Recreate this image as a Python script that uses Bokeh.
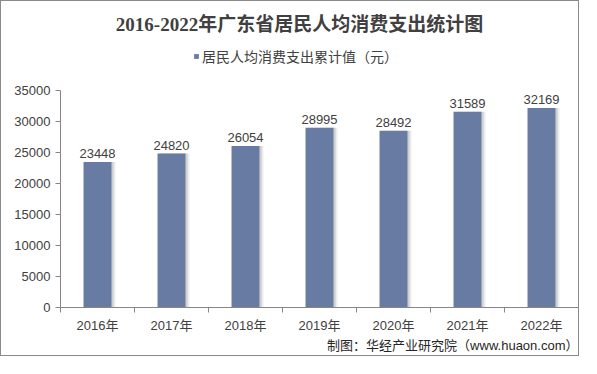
from bokeh.plotting import figure
from bokeh.models import (Range1d, FixedTicker, Label, LabelSet, ColumnDataSource,
                          Legend, LegendItem, BasicTickFormatter, Title)
from bokeh.core.properties import value
from bokeh.embed import file_html
from bokeh.resources import INLINE

years = ["2016年", "2017年", "2018年", "2019年", "2020年", "2021年", "2022年"]
values = [23448, 24820, 26054, 28995, 28492, 31589, 32169]
y_ticks = [0, 5000, 10000, 15000, 20000, 25000, 30000, 35000]
y_max = 35000
title_text = "2016-2022年广东省居民人均消费支出统计图"
legend_text = "居民人均消费支出累计值（元）"
source_text = "制图：华经产业研究院（www.huaon.com）"

BAR = "#687BA3"
SANS = "'Liberation Sans', 'Noto Sans CJK SC', sans-serif"
SERIF = "'Liberation Serif', 'Noto Sans CJK SC', serif"

# canvas is 579x356 plus a 1px CSS border -> 581x358 on the page
W, H = 579, 356
FRAME_TOP, AXIS_TOP, AXIS_ZERO = 3, 89, 306   # pixel layout (canvas coords)
LEFT, RIGHT = 59, 577
y_end = y_max * (AXIS_ZERO - FRAME_TOP) / (AXIS_ZERO - AXIS_TOP)

xs = [i + 0.5 for i in range(len(years))]
src = ColumnDataSource(dict(x=xs, top=values, label=[str(v) for v in values],
                            xs1=[x + 0.03 for x in xs], xs2=[x + 0.055 for x in xs]))

p = figure(width=W, height=H, output_backend="svg", toolbar_location=None,
           x_range=Range1d(0, len(years)), y_range=Range1d(0, y_end),
           min_border_left=LEFT, min_border_right=W - RIGHT, min_border_top=FRAME_TOP,
           min_border_bottom=H - AXIS_ZERO,
           background_fill_color="white", border_fill_color="white")
p.styles = {"border": "1px solid #8a8a8a"}
p.outline_line_color = None
p.xgrid.visible = False
p.ygrid.visible = False

BW = 0.378
p.vbar(x="xs2", top="top", width=BW, source=src, fill_color="#000000", fill_alpha=0.07, line_color=None)
p.vbar(x="xs1", top="top", width=BW, source=src, fill_color="#000000", fill_alpha=0.12, line_color=None)
bars = p.vbar(x="x", top="top", width=BW, source=src, fill_color=BAR, line_color=None)

labels = LabelSet(x="x", y="top", text="label", source=src, text_align="center",
                  text_baseline="bottom", y_offset=4, text_font_size=value("13px"),
                  text_font=value(SANS), text_color="#404040")
p.add_layout(labels)

# y axis
p.yaxis.ticker = FixedTicker(ticks=y_ticks)
p.yaxis.bounds = (0, y_max)
p.yaxis.formatter = BasicTickFormatter(use_scientific=False)
p.yaxis.axis_line_color = "#868686"
p.yaxis.major_tick_line_color = "#868686"
p.yaxis.major_tick_out = 5
p.yaxis.major_tick_in = 0
p.yaxis.minor_tick_line_color = None
p.yaxis.major_label_standoff = 5
p.yaxis.major_label_text_font_size = "13px"
p.yaxis.major_label_text_font = SANS
p.yaxis.major_label_text_color = "#404040"

# x axis
p.xaxis.ticker = FixedTicker(ticks=xs, minor_ticks=list(range(len(years) + 1)))
p.xaxis.major_label_overrides = {x: y for x, y in zip(xs, years)}
p.xaxis.axis_line_color = "#868686"
p.xaxis.major_tick_line_color = None
p.xaxis.major_tick_out = 0
p.xaxis.major_tick_in = 0
p.xaxis.minor_tick_line_color = "#868686"
p.xaxis.minor_tick_out = 5
p.xaxis.minor_tick_in = 0
p.xaxis.major_label_standoff = 5
p.xaxis.major_label_text_font_size = "13px"
p.xaxis.major_label_text_font = SANS
p.xaxis.major_label_text_color = "#404040"

# title (inside the frame, above the bounded axis)
p.add_layout(Label(x=298 - LEFT, y=AXIS_ZERO - 23, x_units="screen", y_units="screen",
                   text=title_text, text_align="center", text_baseline="middle",
                   text_font=SERIF, text_font_size="19px", text_font_style="bold",
                   text_color="#404040"))

# legend
legend = Legend(items=[LegendItem(label=legend_text, renderers=[bars])],
                location=(192 - LEFT, AXIS_ZERO - 65), orientation="horizontal",
                glyph_width=6, glyph_height=6, label_standoff=3, padding=0, margin=0,
                spacing=0, label_height=14, border_line_color=None, background_fill_alpha=0,
                label_text_font=SANS, label_text_font_size="14px", label_text_color="#404040")
p.add_layout(legend)

# source note below the x axis
p.add_layout(Title(text=source_text, align="right", text_font=SANS, text_font_size="13px",
                   text_font_style="normal", text_color="#262626", standoff=0, offset=0),
             "below")

open("out.html", "w").write(file_html(p, INLINE))
